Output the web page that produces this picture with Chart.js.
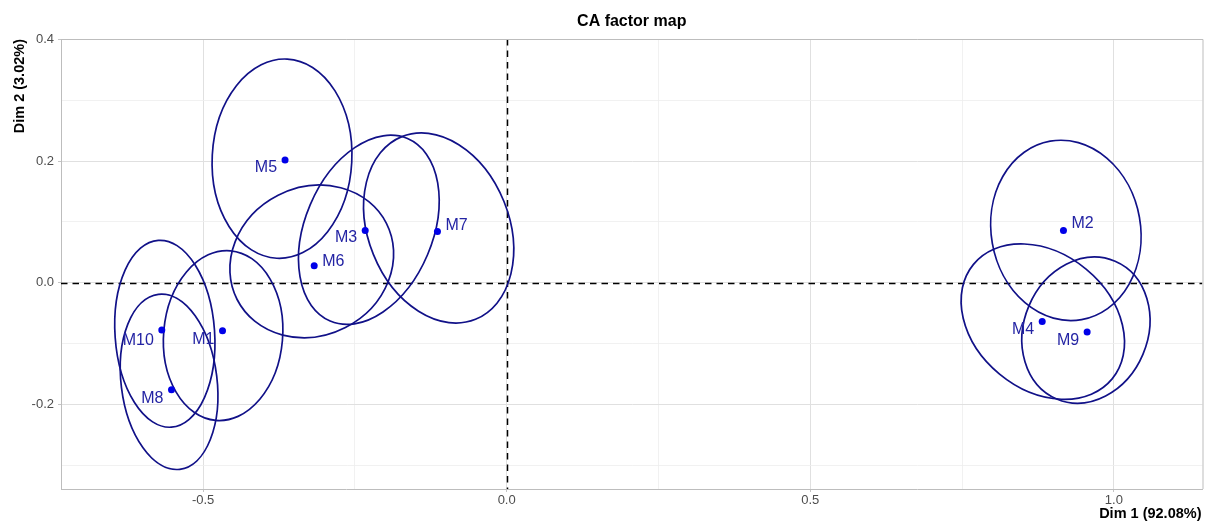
<!DOCTYPE html>
<html>
<head>
<meta charset="utf-8">
<title>CA factor map</title>
<script src="https://cdn.jsdelivr.net/npm/chart.js@4.4.1/dist/chart.umd.min.js"></script>
<style>
  html, body { margin: 0; padding: 0; background: #ffffff; }
  canvas { display: block; }
</style>
</head>
<body>
<canvas id="camap" width="1206" height="527"></canvas>
<script>
// Row coordinates on the first two CA dimensions
const ROWS = ['M1', 'M2', 'M3', 'M4', 'M5', 'M6', 'M7', 'M8', 'M9', 'M10'];
const DIM1 = [-0.468, 0.917, -0.233, 0.882, -0.365, -0.317, -0.114, -0.552, 0.956, -0.568];
const DIM2 = [-0.079, 0.086, 0.086, -0.064, 0.202, 0.028, 0.084, -0.176, -0.081, -0.078];

// Confidence ellipses: centre, semi-axes and orientation (degrees from Dim 1 axis)
const ELL_CX = [-0.467, 0.921, -0.227, 0.883, -0.370, -0.321, -0.112, -0.556, 0.954, -0.563];
const ELL_CY = [-0.087, 0.086, 0.087, -0.064, 0.204, 0.035, 0.090, -0.163, -0.078, -0.084];
const ELL_A = [0.140, 0.149, 0.163, 0.148, 0.164, 0.138, 0.162, 0.145, 0.123, 0.154];
const ELL_B = [0.098, 0.123, 0.105, 0.112, 0.115, 0.122, 0.116, 0.079, 0.102, 0.082];
const ELL_ANGLE = [85, 100, 67, -39.5, 87, 27, 112, 97, 67, 94];

// Axis ticks
const X_MAJOR = [-0.5, 0, 0.5, 1.0];
const X_TICK_LABELS = ['-0.5', '0.0', '0.5', '1.0'];
const X_MINOR = [-0.25, 0.25, 0.75];
const Y_MAJOR = [-0.2, 0, 0.2, 0.4];
const Y_TICK_LABELS = ['-0.2', '0.0', '0.2', '0.4'];
const Y_MINOR = [-0.3, -0.1, 0.1, 0.3];

const X_RANGE = [-0.734, 1.146];
const Y_RANGE = [-0.3393, 0.4008];

const TITLE = 'CA factor map';
const X_TITLE = 'Dim 1 (92.08%)';
const Y_TITLE = 'Dim 2 (3.02%)';

// Label placement: side of the point (-1 left, +1 right) and vertical nudge in px
const LABEL_SIDE = [-1, 1, -1, -1, -1, 1, 1, -1, -1, -1];
const LABEL_NUDGE = [8.7, -6.7, 7.6, 8.3, 7.8, -3.8, -6.3, 8.6, 8.3, 10];

const FONT = '"Liberation Sans", Arial, Helvetica, sans-serif';
const POINT_COLOR = '#0000e8';
const LABEL_COLOR = '#2424a4';
const ELLIPSE_COLOR = '#111188';

function near(v, list) { return list.findIndex(t => Math.abs(t - v) < 1e-9); }
function tickLabel(v, major, labels) { const i = near(v, major); return i >= 0 ? labels[i] : ''; }

const decor = {
  id: 'caDecor',
  beforeDatasetsDraw(chart) {
    const { ctx, chartArea: a, scales: { x, y } } = chart;
    ctx.save();
    ctx.beginPath();
    ctx.rect(a.left, a.top, a.right - a.left, a.bottom - a.top);
    ctx.clip();
    // dashed reference lines through the origin
    ctx.strokeStyle = '#000000';
    ctx.lineWidth = 1.5;
    ctx.setLineDash([6.5, 5]);
    const x0 = Math.round(x.getPixelForValue(0)) + 0.5;
    const y0 = Math.round(y.getPixelForValue(0)) + 0.5;
    ctx.beginPath();
    ctx.moveTo(a.left, y0); ctx.lineTo(a.right, y0);
    ctx.stroke();
    ctx.beginPath();
    ctx.moveTo(x0, a.top); ctx.lineTo(x0, a.bottom);
    ctx.stroke();
    ctx.setLineDash([]);
    // confidence ellipses
    const kx = Math.abs(x.getPixelForValue(1) - x.getPixelForValue(0));
    const ky = Math.abs(y.getPixelForValue(1) - y.getPixelForValue(0));
    ctx.strokeStyle = ELLIPSE_COLOR;
    ctx.lineWidth = 1.7;
    for (let i = 0; i < ELL_CX.length; i++) {
      ctx.save();
      ctx.translate(x.getPixelForValue(ELL_CX[i]), y.getPixelForValue(ELL_CY[i]));
      ctx.scale(kx, -ky);
      ctx.rotate(ELL_ANGLE[i] * Math.PI / 180);
      ctx.beginPath();
      ctx.ellipse(0, 0, ELL_A[i], ELL_B[i], 0, 0, Math.PI * 2);
      ctx.restore();
      ctx.stroke();
    }
    ctx.restore();
  },
  afterDatasetsDraw(chart) {
    const { ctx, chartArea: a } = chart;
    const meta = chart.getDatasetMeta(0);
    ctx.save();
    // point labels
    ctx.font = '16px ' + FONT;
    ctx.fillStyle = LABEL_COLOR;
    ctx.textBaseline = 'middle';
    meta.data.forEach((pt, i) => {
      const side = LABEL_SIDE[i];
      ctx.textAlign = side < 0 ? 'right' : 'left';
      ctx.fillText(ROWS[i], pt.x + side * 8, pt.y + LABEL_NUDGE[i]);
    });
    // panel border on top and right
    ctx.strokeStyle = '#bdbdbd';
    ctx.lineWidth = 1;
    ctx.beginPath();
    ctx.moveTo(a.left, a.top + 0.5); ctx.lineTo(a.right + 0.5, a.top + 0.5);
    ctx.lineTo(a.right + 0.5, a.bottom);
    ctx.stroke();
    // titles
    ctx.fillStyle = '#000000';
    ctx.font = 'bold 16px ' + FONT;
    ctx.textAlign = 'center';
    ctx.fillText(TITLE, (a.left + a.right) / 2, 21.5);
    ctx.font = 'bold 14.5px ' + FONT;
    ctx.textAlign = 'right';
    ctx.fillText(X_TITLE, a.right - 1, 514);
    ctx.translate(19.5, a.top);
    ctx.rotate(-Math.PI / 2);
    ctx.textAlign = 'right';
    ctx.fillText(Y_TITLE, 0, 0);
    ctx.restore();
  }
};

new Chart(document.getElementById('camap'), {
  type: 'scatter',
  data: {
    datasets: [{
      data: DIM1.map((v, i) => ({ x: v, y: DIM2[i] })),
      pointRadius: 3.5,
      pointHoverRadius: 3.5,
      backgroundColor: POINT_COLOR,
      borderWidth: 0
    }]
  },
  options: {
    responsive: false,
    animation: false,
    events: [],
    layout: { padding: { top: 39, right: 2, left: 0, bottom: 0 } },
    plugins: { legend: { display: false }, tooltip: { enabled: false }, title: { display: false } },
    scales: {
      x: {
        type: 'linear',
        min: X_RANGE[0], max: X_RANGE[1],
        afterBuildTicks: s => { s.ticks = X_MAJOR.concat(X_MINOR).sort((p, q) => p - q).map(v => ({ value: v })); },
        afterFit: s => { s.height = 38; },
        ticks: {
          autoSkip: false, maxRotation: 0, padding: 1,
          color: '#4d4d4d', font: { family: FONT, size: 13 },
          callback: v => tickLabel(v, X_MAJOR, X_TICK_LABELS)
        },
        grid: {
          color: c => near(c.tick.value, X_MAJOR) >= 0 ? '#e0e0e0' : '#eeeeee',
          lineWidth: c => near(c.tick.value, X_MAJOR) >= 0 ? 1 : 0.8,
          tickLength: 3,
          tickColor: c => near(c.tick.value, X_MAJOR) >= 0 ? '#c4c4c4' : 'rgba(0,0,0,0)'
        },
        border: { display: true, color: '#bdbdbd', width: 1 }
      },
      y: {
        type: 'linear',
        min: Y_RANGE[0], max: Y_RANGE[1],
        afterBuildTicks: s => { s.ticks = Y_MAJOR.concat(Y_MINOR).sort((p, q) => p - q).map(v => ({ value: v })); },
        afterFit: s => { s.width = 61; },
        ticks: {
          autoSkip: false, padding: 4,
          color: '#4d4d4d', font: { family: FONT, size: 13 },
          callback: v => tickLabel(v, Y_MAJOR, Y_TICK_LABELS)
        },
        grid: {
          color: c => near(c.tick.value, Y_MAJOR) >= 0 ? '#e0e0e0' : '#eeeeee',
          lineWidth: c => near(c.tick.value, Y_MAJOR) >= 0 ? 1 : 0.8,
          tickLength: 3,
          tickColor: c => near(c.tick.value, Y_MAJOR) >= 0 ? '#c4c4c4' : 'rgba(0,0,0,0)'
        },
        border: { display: true, color: '#bdbdbd', width: 1 }
      }
    }
  },
  plugins: [decor]
});
</script>
</body>
</html>
